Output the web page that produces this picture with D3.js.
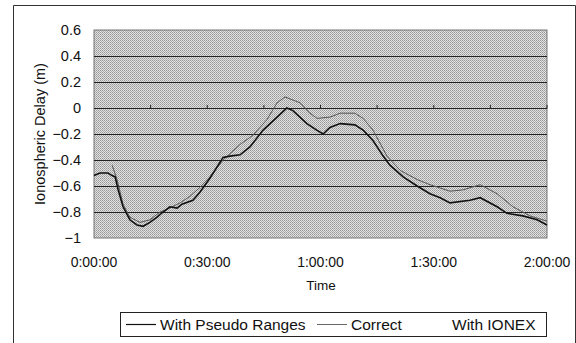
<!DOCTYPE html>
<html>
<head>
<meta charset="utf-8">
<script src="https://cdn.jsdelivr.net/npm/d3@7"></script>
<style>
  body { margin: 0; background: #fff; }
  svg { display: block; font-family: "Liberation Sans", Arial, sans-serif; }
</style>
</head>
<body>
<script>
// time in minutes, delay in metres
const pseudoT = [0, 1.6, 3.7, 4.8, 5.6, 6.4, 7.7, 9.5, 11.4, 13, 14.8, 16.7, 18.3, 20.1, 22, 23.3, 26.2, 28, 30.7, 34.2, 36, 38.7, 41.3, 44.8, 48.5, 51.1, 52.7, 56.4, 59, 60.7, 62.5, 65.2, 69.1, 71.3, 73.9, 76.6, 78.4, 81.9, 85.6, 89, 91.7, 94.3, 99.6, 102.3, 106.8, 109.4, 113.6, 117.4, 120];
const pseudoV = [-0.52, -0.50, -0.50, -0.52, -0.53, -0.63, -0.76, -0.86, -0.90, -0.91, -0.88, -0.84, -0.80, -0.76, -0.77, -0.74, -0.71, -0.65, -0.54, -0.38, -0.37, -0.36, -0.30, -0.17, -0.07, 0.0, -0.02, -0.12, -0.17, -0.20, -0.15, -0.12, -0.13, -0.17, -0.25, -0.37, -0.44, -0.53, -0.60, -0.66, -0.69, -0.73, -0.71, -0.69, -0.76, -0.81, -0.83, -0.86, -0.90];

const correctT = [4.8, 6.1, 7.7, 9.5, 12.2, 14.8, 17.5, 19.3, 22.8, 25.4, 28.1, 30.7, 34.2, 38.7, 42.1, 45.8, 48.5, 50.6, 54.6, 57.2, 59.1, 62.5, 65.2, 69.1, 71.3, 73.9, 77.6, 81.1, 85.6, 89, 94.3, 97.7, 102.3, 106.8, 111, 115.5, 120];
const correctV = [-0.44, -0.55, -0.74, -0.84, -0.88, -0.86, -0.80, -0.78, -0.73, -0.68, -0.61, -0.53, -0.40, -0.28, -0.21, -0.09, 0.04, 0.085, 0.04, -0.04, -0.08, -0.07, -0.04, -0.04, -0.08, -0.17, -0.37, -0.48, -0.55, -0.59, -0.64, -0.63, -0.59, -0.66, -0.76, -0.83, -0.87];

const xTicks = [0, 30, 60, 90, 120];
const yTicks = [0.6, 0.4, 0.2, 0, -0.2, -0.4, -0.6, -0.8, -1];
const legendNames = ["With Pseudo Ranges", "Correct", "With IONEX"];

const W = 576, H = 343;
const plotL = 94, plotR = 547, plotT = 30, plotB = 238;

const svg = d3.select("body").append("svg")
  .attr("width", W)
  .attr("height", H);

// outer frame
svg.append("path")
  .attr("d", "M13.5,343 V5.5 H575.5 V343")
  .attr("fill", "none")
  .attr("stroke", "#333")
  .attr("stroke-width", 1);

const x = d3.scaleLinear().domain([0, 120]).range([plotL, plotR]);
const y = d3.scaleLinear().domain([-1, 0.6]).range([plotB, plotT]);

// dithered grey plot area
const defs = svg.append("defs");
const pat = defs.append("pattern")
  .attr("id", "dither")
  .attr("width", 2).attr("height", 2)
  .attr("patternUnits", "userSpaceOnUse");
pat.append("rect").attr("width", 2).attr("height", 2).attr("fill", "#e2e2e2");
pat.append("rect").attr("width", 1).attr("height", 1).attr("fill", "#979797");
pat.append("rect").attr("x", 1).attr("y", 1).attr("width", 1).attr("height", 1).attr("fill", "#acacac");

svg.append("rect")
  .attr("x", plotL).attr("y", plotT)
  .attr("width", plotR - plotL).attr("height", plotB - plotT)
  .attr("fill", "url(#dither)")
  .attr("stroke", "#777");

// horizontal grid lines
svg.append("g")
  .selectAll("line")
  .data(yTicks.filter(d => d > -1 && d < 0.6))
  .enter().append("line")
  .attr("x1", plotL).attr("x2", plotR)
  .attr("y1", d => Math.round(y(d)) + 0.5)
  .attr("y2", d => Math.round(y(d)) + 0.5)
  .attr("stroke", "#222")
  .attr("stroke-width", 1);

// x axis sits on the zero line, ticks every 15 min
svg.append("g")
  .selectAll("line")
  .data(d3.range(15, 121, 15))
  .enter().append("line")
  .attr("x1", d => x(d)).attr("x2", d => x(d))
  .attr("y1", Math.round(y(0)) + 0.5)
  .attr("y2", Math.round(y(0)) - 3)
  .attr("stroke", "#222");

// y tick labels
const fmtY = d => d === 0 ? "0" : d === -1 ? "\u22121" : d3.format(".1f")(d).replace("-", "\u2212");
svg.append("g")
  .selectAll("text")
  .data(yTicks)
  .enter().append("text")
  .attr("x", 81)
  .attr("y", d => y(d) + 5)
  .attr("text-anchor", "end")
  .attr("font-size", 14.5)
  .attr("fill", "#111")
  .text(fmtY);

// x tick labels
const fmtX = m => Math.floor(m / 60) + ":" + d3.format("02")(m % 60) + ":00";
svg.append("g")
  .selectAll("text")
  .data(xTicks)
  .enter().append("text")
  .attr("x", d => x(d))
  .attr("y", 267)
  .attr("text-anchor", "middle")
  .attr("font-size", 14)
  .attr("fill", "#111")
  .text(fmtX);

// axis titles
svg.append("text")
  .attr("x", 321).attr("y", 290)
  .attr("text-anchor", "middle")
  .attr("font-size", 13.5)
  .attr("fill", "#111")
  .text("Time");

svg.append("text")
  .attr("transform", "translate(45," + ((plotT + plotB) / 2) + ") rotate(-90)")
  .attr("text-anchor", "middle")
  .attr("font-size", 14.5)
  .attr("fill", "#111")
  .text("Ionospheric Delay (m)");

// series
const line = d3.line()
  .x(d => x(d[0]))
  .y(d => y(d[1]))
  .curve(d3.curveLinear);

svg.append("path")
  .datum(correctT.map((t, i) => [t, correctV[i]]))
  .attr("d", line)
  .attr("fill", "none")
  .attr("stroke", "#555")
  .attr("stroke-width", 1);

svg.append("path")
  .datum(pseudoT.map((t, i) => [t, pseudoV[i]]))
  .attr("d", line)
  .attr("fill", "none")
  .attr("stroke", "#111")
  .attr("stroke-width", 1.6);

// legend
const lg = svg.append("g");
lg.append("rect")
  .attr("x", 120.5).attr("y", 312.5)
  .attr("width", 426).attr("height", 24)
  .attr("fill", "#fff")
  .attr("stroke", "#222");

const legendItems = [
  { name: legendNames[0], x0: 126, color: "#111", sw: 1.2 },
  { name: legendNames[1], x0: 317, color: "#666", sw: 1 },
  { name: legendNames[2], x0: 418, color: "#fff", sw: 1 }
];
legendItems.forEach(it => {
  lg.append("line")
    .attr("x1", it.x0).attr("x2", it.x0 + 30)
    .attr("y1", 324.5).attr("y2", 324.5)
    .attr("stroke", it.color)
    .attr("stroke-width", it.sw);
  lg.append("text")
    .attr("x", it.x0 + 34).attr("y", 330)
    .attr("font-size", 15.5)
    .attr("fill", "#111")
    .text(it.name);
});
</script>
</body>
</html>
